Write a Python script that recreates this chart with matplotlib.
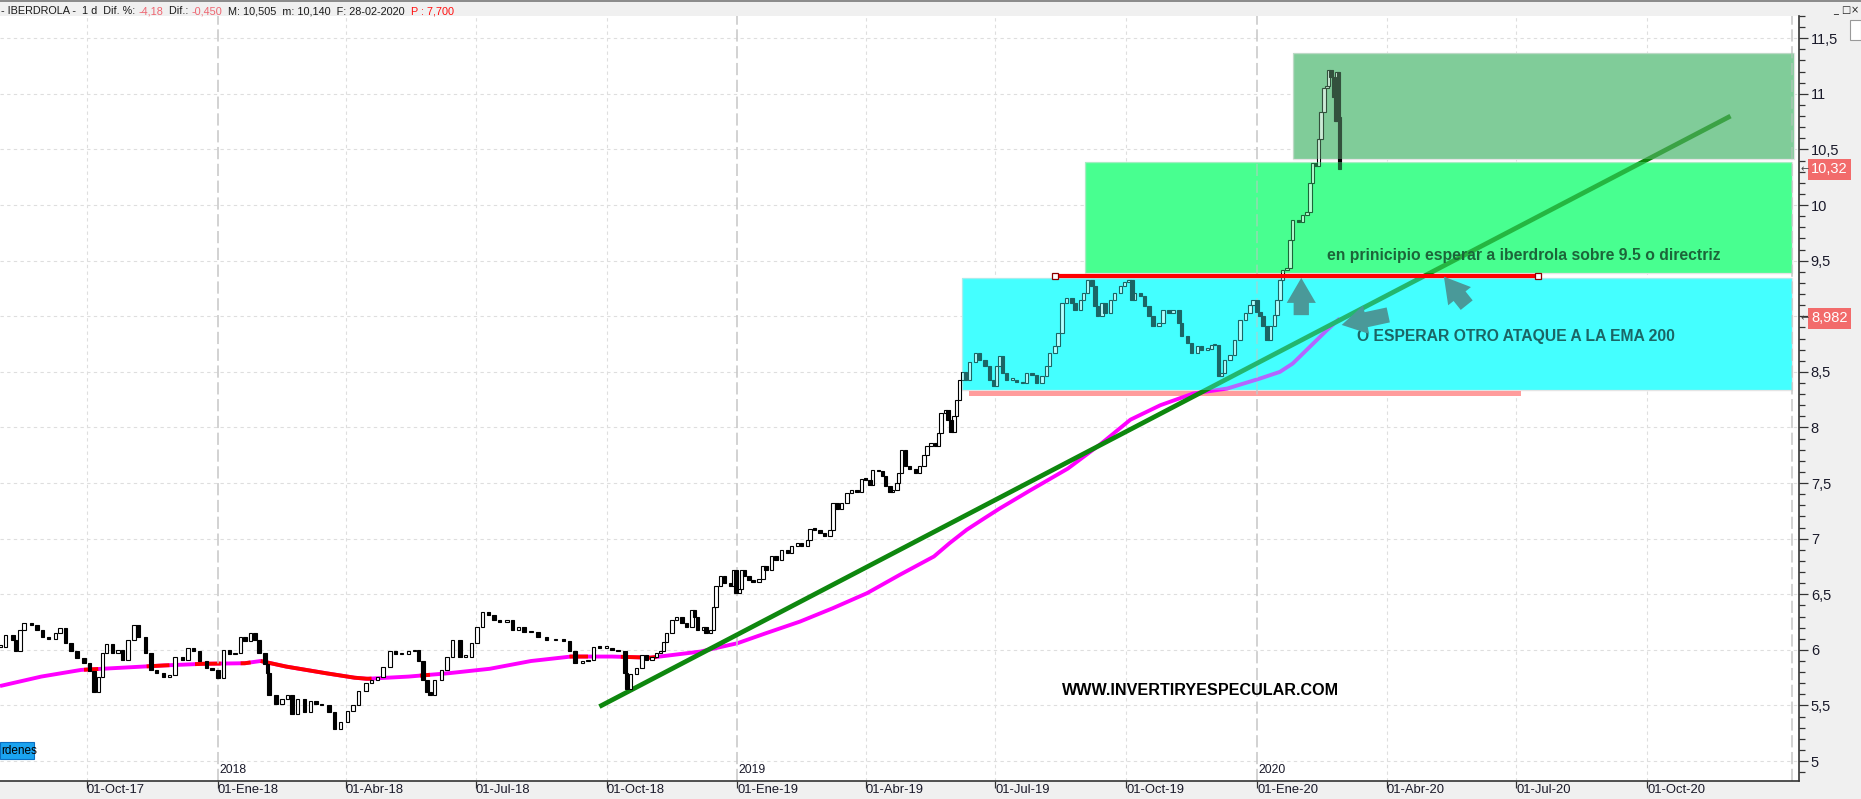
import datetime as dt

import numpy as np
import matplotlib
matplotlib.use("Agg")
import matplotlib.pyplot as plt
import matplotlib.dates as mdates
from matplotlib.patches import Rectangle
from matplotlib.ticker import MultipleLocator, FuncFormatter, FixedLocator
from matplotlib.transforms import blended_transform_factory

plt.rcParams["font.family"] = ["Liberation Sans", "DejaVu Sans"]

W, H = 1861, 799

# ---- data, days counted from 01-Aug-2017 ----
BASE = dt.date(2017, 8, 1)

close_days = [
    0, 4, 9, 11, 14, 17, 22, 26, 30, 34, 39, 42, 46, 50, 54, 59, 63, 66, 69, 72,
    75, 79, 83, 86, 90, 94, 97, 102, 106, 110, 115, 119, 123, 128, 132, 136, 140, 145, 149, 153,
    157, 161, 165, 169, 172, 176, 179, 182, 186, 188, 189, 194, 198, 202, 205, 209, 214, 218, 222, 226,
    231, 235, 239, 244, 248, 252, 257, 261, 265, 269, 274, 278, 282, 287, 291, 294, 297, 300, 302, 305,
    310, 314, 318, 323, 327, 331, 335, 339, 343, 347, 351, 356, 360, 364, 368, 373, 378, 384, 390, 396,
    400, 404, 409, 413, 417, 421, 426, 430, 434, 439, 440, 443, 447,
    451, 454, 458, 461, 464, 466, 468, 472, 475, 479, 482, 486, 488, 490, 494, 496, 499, 501, 503, 506,
    509, 513, 515, 517, 519, 521, 523, 526, 529, 533, 536, 538, 542, 545, 549, 553, 556, 560, 563, 567,
    569, 572, 576, 579, 583, 585, 588, 591, 595, 598, 602, 605, 608, 611, 613, 617, 620, 622, 625, 627,
    630, 631, 633, 636, 639, 643, 646, 649, 651, 654, 657, 659, 661, 664, 666, 668, 670, 672, 674, 676,
    678, 681, 685, 688, 692, 695, 698, 700,
    702, 704, 707, 711, 714, 718, 721, 725, 728, 732, 735, 737, 741, 743, 746, 749, 753, 755, 759, 761,
    764, 767, 769, 771, 774, 776, 780, 783, 787, 790, 793, 795, 797, 801, 804, 807, 810, 814, 817, 821,
    824, 828, 830, 834, 837, 841, 844, 848, 851, 853, 856, 858, 860, 864, 867, 871, 875, 878, 880, 883,
    885, 887, 890, 892, 895, 897, 899, 901, 904, 906, 908, 912, 915, 918, 920, 922, 924, 926, 928, 930,
    932, 933, 935, 937, 938, 939, 940, 941,
]
close_vals = [
    6.03, 6.13, 6.09, 5.99, 6.18, 6.24, 6.22, 6.18, 6.12, 6.10, 6.15, 6.20, 6.06, 5.99, 5.93, 5.88, 5.81, 5.62, 5.76, 5.97,
    6.05, 5.97, 6.00, 5.91, 6.09, 6.22, 6.12, 5.97, 5.82, 5.79, 5.76, 5.77, 5.94, 5.91, 6.02, 5.99, 5.90, 5.84, 5.82, 5.75,
    6.00, 5.96, 5.97, 6.12, 6.08, 6.15, 6.09, 5.97, 5.87, 5.79, 5.59, 5.51, 5.56, 5.59, 5.42, 5.56, 5.44, 5.54, 5.51, 5.50,
    5.44, 5.29, 5.35, 5.45, 5.50, 5.63, 5.70, 5.73, 5.76, 5.85, 5.99, 5.96, 5.96, 5.99, 6.00, 5.90, 5.73, 5.62, 5.59, 5.73,
    5.82, 5.94, 6.09, 5.94, 5.94, 6.06, 6.21, 6.34, 6.31, 6.27, 6.25, 6.27, 6.18, 6.21, 6.16, 6.16, 6.12, 6.09, 6.10, 6.08,
    5.99, 5.88, 5.90, 5.91, 6.03, 6.02, 6.02, 6.00, 5.99, 5.79, 5.65, 5.78, 5.84,
    5.95, 5.91, 5.94, 5.97, 5.99, 6.07, 6.15, 6.27, 6.30, 6.24, 6.21, 6.36, 6.30, 6.18, 6.21, 6.15, 6.18, 6.39, 6.57, 6.66,
    6.60, 6.57, 6.72, 6.51, 6.55, 6.72, 6.66, 6.63, 6.61, 6.64, 6.75, 6.72, 6.84, 6.81, 6.90, 6.87, 6.93, 6.96, 6.93, 6.99,
    7.09, 7.08, 7.05, 7.02, 7.08, 7.32, 7.27, 7.32, 7.41, 7.44, 7.42, 7.54, 7.53, 7.48, 7.62, 7.61, 7.56, 7.47, 7.42, 7.44,
    7.50, 7.59, 7.80, 7.65, 7.63, 7.59, 7.65, 7.75, 7.83, 7.86, 7.83, 7.95, 8.13, 8.16, 8.07, 7.96, 8.10, 8.25, 8.43, 8.50,
    8.43, 8.59, 8.67, 8.61, 8.55, 8.43, 8.37, 8.55,
    8.64, 8.49, 8.43, 8.43, 8.41, 8.40, 8.49, 8.47, 8.40, 8.46, 8.55, 8.67, 8.73, 8.85, 9.12, 9.16, 9.12, 9.06, 9.15, 9.21,
    9.33, 9.27, 9.09, 9.00, 9.12, 9.03, 9.15, 9.21, 9.27, 9.31, 9.33, 9.15, 9.21, 9.18, 9.09, 9.00, 8.91, 8.94, 9.06, 9.03,
    9.06, 8.94, 8.82, 8.76, 8.67, 8.73, 8.70, 8.71, 8.74, 8.74, 8.46, 8.49, 8.61, 8.65, 8.79, 8.97, 9.03, 9.10, 9.15, 9.04,
    9.00, 8.91, 8.79, 8.91, 9.01, 9.15, 9.33, 9.42, 9.43, 9.69, 9.87, 9.85, 9.91, 9.94, 10.20, 10.38, 10.35, 10.59, 10.84, 11.05,
    11.07, 11.21, 11.15, 10.97, 10.76, 11.20, 10.79, 10.32,
]

ema_days = [0, 29, 57, 86, 115, 143, 172, 183, 201, 229, 249, 258, 287, 315, 344, 373, 401, 430,
            457, 492, 518, 538, 562, 585, 609, 632, 656, 667, 679, 691, 702, 723, 750, 773,
            794, 815, 838, 862, 885, 899, 908, 920, 932, 941]
ema_vals = [5.675, 5.76, 5.82, 5.84, 5.86, 5.875, 5.88, 5.90, 5.85, 5.79, 5.75, 5.74, 5.76, 5.79,
            5.83, 5.90, 5.94, 5.94, 5.93, 5.985, 6.06, 6.15, 6.255, 6.375, 6.51, 6.675, 6.84, 6.96,
            7.08, 7.18, 7.27, 7.43, 7.63, 7.85, 8.07, 8.20, 8.305, 8.35, 8.44, 8.50, 8.575, 8.725,
            8.875, 8.98]
# stretches where price sits under the EMA 200 (line turns red)
ema_below = [(59, 69), (103, 119), (137, 155), (169, 176), (183, 261), (295, 302), (400, 413), (436, 461)]

trend_days = [421, 1215.5]
trend_vals = [5.49, 10.80]

resist_days = [741, 1080]
resist_level = 9.366

zone_days = [(675.5, 1259), (762, 1259), (908.4, 1260.3)]
zone_levels = [(8.335, 9.34), (9.39, 10.39), (10.41, 11.37)]
zone_colors = ["#44ffff", "#48ff90", "#80cc99"]

support_days = (680.6, 1068.4)
support_levels = (8.28, 8.33)

last_close = 10.32
last_ema = 8.982

MESES = {1: "Ene", 4: "Abr", 7: "Jul", 10: "Oct"}
quarter_dates = [dt.date(y, m, 1) for y in range(2017, 2021) for m in (1, 4, 7, 10)
                 if dt.date(y, m, 1) > BASE]

header_parts = [
    ("- IBERDROLA -  1 d  Dif. %: ", "#1a1a1a"),
    ("-4,18", "#ee6470"),
    ("  Dif.: ", "#1a1a1a"),
    ("-0,450", "#ee6470"),
    ("  M: 10,505  m: 10,140  F: 28-02-2020  ", "#1a1a1a"),
    ("P : 7,700", "#ff1010"),
]

# ---- figure ----
fig = plt.figure(figsize=(W / 100, H / 100), dpi=100, facecolor="#f0f0f0")
ax = fig.add_axes([0, 1 - 781 / H, 1799 / W, (781 - 16) / H])
ax.set_facecolor("white")

x0 = mdates.date2num(BASE)
ax.set_xlim(x0, x0 + 1263.6)
ax.set_ylim(4.821, 11.70)

# grid
for lvl in np.arange(5.0, 11.51, 0.5):
    ax.axhline(lvl, color="#dedede", lw=0.8, dashes=(3, 3), zorder=0.5)
for q in quarter_dates:
    if q.month != 1:
        ax.axvline(mdates.date2num(q), color="#dedede", lw=0.8, dashes=(3, 3), zorder=0.5)
for q in quarter_dates:
    if q.month == 1:
        ax.axvline(mdates.date2num(q), color="#c6c6c6", lw=1.1, dashes=(8, 3), zorder=2.2)
ax.axvline(x0 + 1258.5, color="#c6c6c6", lw=1.1, dashes=(8, 3), zorder=2.2)

# zones (solid below, translucent copy above so the candles get tinted)
for (d0, d1), (p0, p1), col in zip(zone_days, zone_levels, zone_colors):
    ax.add_patch(Rectangle((x0 + d0, p0), d1 - d0, p1 - p0, facecolor=col,
                           edgecolor="#e4e4e4", lw=1, zorder=1))
    ax.add_patch(Rectangle((x0 + d0, p0), d1 - d0, p1 - p0, facecolor=col,
                           edgecolor="none", alpha=0.4, zorder=4))
ax.add_patch(Rectangle((x0 + support_days[0], support_levels[0]),
                       support_days[1] - support_days[0], support_levels[1] - support_levels[0],
                       facecolor="#ff9c9c", edgecolor="none", zorder=1.5))

# EMA 200
ed = np.array(ema_days, dtype=float)
ev = np.array(ema_vals)
ax.plot(x0 + ed, ev, color="#ff00ff", lw=2.8, zorder=2, solid_capstyle="butt")
for a, b in ema_below:
    t = np.linspace(a, b, 40)
    ax.plot(x0 + t, np.interp(t, ed, ev), color="#ff0000", lw=2.8, zorder=2.1,
            solid_capstyle="butt")

# trend line
ax.plot(x0 + np.array(trend_days), trend_vals, color="#0e870e", lw=3.4, zorder=2.5,
        solid_capstyle="butt")

# candles
xs = x0 + np.array(close_days, dtype=float)
c = np.array(close_vals)
o = np.r_[c[0], c[:-1]]
lo = np.minimum(o, c)
hgt = np.maximum(np.abs(c - o), 0.012)
up = c >= o
ax.bar(xs[up], hgt[up], bottom=lo[up], width=2.4, facecolor="white",
       edgecolor="black", lw=0.8, zorder=3)
ax.bar(xs[~up], hgt[~up], bottom=lo[~up], width=2.4, facecolor="black",
       edgecolor="black", lw=0.8, zorder=3)

# notes (under the tint)
ax.text(x0 + 931.9, 9.506, "en prinicipio esperar a iberdrola sobre 9.5 o directriz",
        fontsize=11.3, fontweight="bold", color="black", va="baseline", ha="left", zorder=3.5)
ax.text(x0 + 952.9, 8.778, "O ESPERAR OTRO ATAQUE A LA EMA 200",
        fontsize=11.3, fontweight="bold", color="black", va="baseline", ha="left", zorder=3.5)
ax.text(x0 + 745.9, 5.594, "WWW.INVERTIRYESPECULAR.COM",
        fontsize=11.6, fontweight="bold", color="black", va="baseline", ha="left", zorder=7)

# resistance line
ax.plot(x0 + np.array(resist_days), [resist_level] * 2, color="#ff0000", lw=3.0,
        zorder=5, solid_capstyle="butt")
ax.plot(x0 + np.array(resist_days), [resist_level] * 2, "s", ms=4.2, mfc="white",
        mec="#8b0000", mew=0.9, zorder=6)

# arrows
arrow_style = "simple,head_length=18,head_width=21,tail_width=11"
for tip, tail in [((914, 9.345), (914, 9.01)),
                  ((1014.2, 9.356), (1030.2, 9.10)),
                  ((942.4, 8.922), (975.1, 9.012))]:
    ax.annotate("", xy=(x0 + tip[0], tip[1]), xytext=(x0 + tail[0], tail[1]),
                arrowprops=dict(arrowstyle=arrow_style, mutation_scale=1, color="#4a9999",
                                shrinkA=0, shrinkB=0, lw=0), zorder=6)

# axes styling
for side in ("top", "left"):
    ax.spines[side].set_visible(False)
for side in ("bottom", "right"):
    ax.spines[side].set_color("#333333")
    ax.spines[side].set_linewidth(1.2)


def price_label(v, p):
    # the 9 label sits under the EMA price tag
    if abs(v - 9.0) < 1e-6:
        return ""
    return f"{v:g}".replace(".", ",")


ax.yaxis.tick_right()
ax.yaxis.set_major_locator(MultipleLocator(0.5))
ax.yaxis.set_minor_locator(MultipleLocator(0.1))
ax.yaxis.set_major_formatter(FuncFormatter(price_label))
ax.tick_params(axis="y", which="major", length=6.5, width=0.9, pad=2, labelsize=10.5,
               colors="#333333", labelcolor="#1a1a2a")
ax.tick_params(axis="y", which="minor", length=4.5, width=0.9, colors="#333333")

ax.xaxis.set_major_locator(FixedLocator([mdates.date2num(q) for q in quarter_dates]))
ax.xaxis.set_major_formatter(FuncFormatter(
    lambda v, p: f"01-{MESES[mdates.num2date(v).month]}-{mdates.num2date(v):%y}"))
ax.tick_params(axis="x", length=5, width=0.9, pad=-3, labelsize=9.4, colors="#333333",
               labelcolor="#1a1a2a")
plt.setp(ax.get_xticklabels(), ha="left")

yr_tr = blended_transform_factory(ax.transData, ax.transAxes)
for yr in (2018, 2019, 2020):
    ax.text(mdates.date2num(dt.date(yr, 1, 1)) + 0.8, 0.006, str(yr), transform=yr_tr,
            fontsize=8.8, color="#1a1a2a", ha="left", va="bottom")

# price tags on the right axis
tag_tr = blended_transform_factory(ax.transAxes, ax.transData)
for val, lab in [(last_close, "10,32"), (last_ema, "8,982")]:
    ax.add_patch(Rectangle((1808 / 1799, val - 0.094), 43 / 1799, 0.188, transform=tag_tr,
                           facecolor="#f26b6b", edgecolor="none", clip_on=False, zorder=8))
    ax.text(1829.5 / 1799, val, lab, transform=tag_tr, color="white", fontsize=10.5,
            ha="center", va="center", clip_on=False, zorder=9)
    ax.text(1800.5 / 1799, val, "\u2190", transform=tag_tr, color="#444444", fontsize=7,
            ha="left", va="center", clip_on=False, zorder=9, family="DejaVu Sans")

# header bar
fig.add_artist(Rectangle((0, 1 - 2 / H), 1, 2 / H, transform=fig.transFigure,
                         facecolor="#8c8c8c", edgecolor="none"))
renderer = fig.canvas.get_renderer()
xpix = 1.0
for s, col in header_parts:
    t = fig.text(xpix / W, 1 - 14 / H, s, color=col, fontsize=7.8, ha="left", va="baseline")
    xpix += t.get_window_extent(renderer).width

# window buttons
for i, g in enumerate(["_", "\u25a1", "\u00d7"]):
    fig.text((1836 + i * 9.5) / W, 1 - 10 / H, g, fontsize=7, color="#222222",
             ha="center", va="center", family="DejaVu Sans")
fig.add_artist(Rectangle((1850 / W, 1 - 40 / H), 11 / W, 20 / H, transform=fig.transFigure,
                         facecolor="white", edgecolor="#999999", lw=0.8))

# "Ordenes" button, cut at the left edge
fig.add_artist(Rectangle((0, 1 - 759 / H), 34 / W, 17 / H, transform=fig.transFigure,
                         facecolor="#1aa3f0", edgecolor="#0b6fc2", lw=0.8, zorder=10))
fig.text(1 / W, 1 - 750.5 / H, "rdenes", fontsize=8.5, color="black", ha="left",
         va="center", zorder=11)

fig.savefig("out.png", dpi=100, facecolor=fig.get_facecolor())
